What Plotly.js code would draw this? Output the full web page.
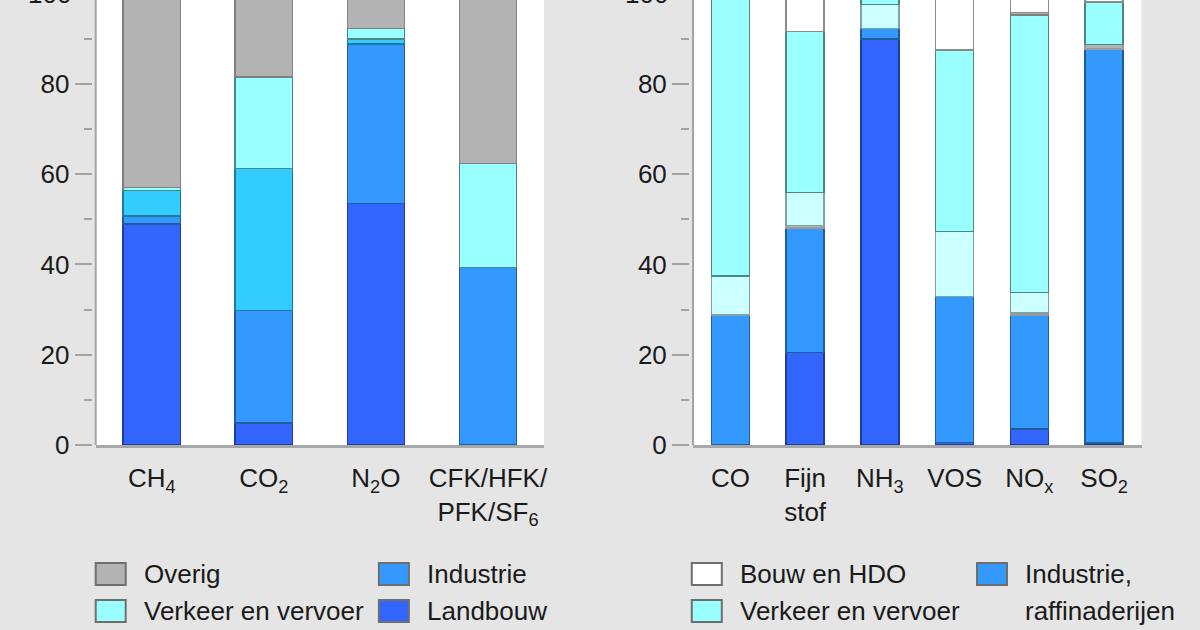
<!DOCTYPE html>
<html>
<head>
<meta charset="utf-8">
<script src="https://cdn.plot.ly/plotly-3.0.1.min.js"></script>
<style>
  html, body { margin: 0; padding: 0; background: #e5e5e5; }
  #chart { width: 1200px; height: 630px; }
</style>
</head>
<body>
<div id="chart"></div>
<script>
// ---------- DATA ----------
// Left panel: greenhouse gases (share per sector, %)
const leftCategories = ['CH4', 'CO2', 'N2O', 'CFK'];
const leftTickLabels = ['CH<sub>4</sub>', 'CO<sub>2</sub>', 'N<sub>2</sub>O', 'CFK/HFK/<br>PFK/SF<sub>6</sub>'];
const leftLandbouw  = [49.0, 4.9, 53.5, 0];
const leftIndustrie = [1.7, 24.9, 35.3, 39.3];
const leftEnergie   = [5.7, 31.5, 1.2, 0];
const leftVerkeer   = [0.7, 20.2, 2.3, 23.1];
const leftOverig    = [42.9, 18.5, 7.7, 37.6];

// Right panel: other pollutants (share per sector, %)
const rightCategories = ['CO', 'Fijn stof', 'NH3', 'VOS', 'NOx', 'SO2'];
const rightTickLabels = ['CO', 'Fijn<br>stof', 'NH<sub>3</sub>', 'VOS', 'NO<sub>x</sub>', 'SO<sub>2</sub>'];
const rightLandbouw    = [0, 20.5, 90.0, 0.6, 3.5, 0.4];
const rightIndustrie   = [28.8, 27.6, 2.3, 32.3, 25.3, 87.3];
const rightEnergie     = [0, 0.5, 0, 0, 0.5, 1.0];
const rightConsumenten = [8.6, 7.4, 5.3, 14.4, 4.5, 0];
const rightVerkeer     = [62.6, 35.6, 1.5, 40.2, 61.5, 9.5];
const rightOverig      = [0, 0, 0, 0, 0.5, 0];
const rightBouw        = [0, 8.4, 0.9, 12.5, 4.2, 1.8];

const yTickValues = [0, 20, 40, 60, 80, 100];

// Legend entries (visible part), column-major
const leftLegendCol1 = ['Overig', 'Verkeer en vervoer'];
const leftLegendCol2 = ['Industrie', 'Landbouw'];
const rightLegendCol1 = ['Bouw en HDO', 'Verkeer en vervoer'];
const rightLegendCol2 = ['Industrie,\nraffinaderijen'];

// ---------- STYLES ----------
const styles = {
  'Landbouw':               { fill: '#3366ff', line: '#1f3d99' },
  'Industrie':              { fill: '#3399ff', line: '#1f5c99' },
  'Industrie,\nraffinaderijen': { fill: '#3399ff', line: '#1f5c99' },
  'Energie':                { fill: '#33ccff', line: '#1f7a99' },
  'Energiesector':          { fill: '#b3b3b3', line: '#9a9a9a' },
  'Consumenten':            { fill: '#ccffff', line: '#7fa3a3' },
  'Verkeer en vervoer':     { fill: '#99ffff', line: '#4d8686' },
  'Overig':                 { fill: '#b3b3b3', line: '#808080' },
  'Bouw en HDO':            { fill: '#ffffff', line: '#8a8a8a' }
};

function bar(name, styleKey, x, y, xa, ya) {
  const s = styles[styleKey];
  return {
    type: 'bar', name: name, x: x, y: y.map(v => v === 0 ? null : v),
    xaxis: xa, yaxis: ya, showlegend: false, hoverinfo: 'skip',
    marker: { color: s.fill, line: { color: s.line, width: 1.5 } }
  };
}

const traces = [
  bar('Landbouw', 'Landbouw', leftCategories, leftLandbouw, 'x', 'y'),
  bar('Industrie', 'Industrie', leftCategories, leftIndustrie, 'x', 'y'),
  bar('Energie', 'Energie', leftCategories, leftEnergie, 'x', 'y'),
  bar('Verkeer en vervoer', 'Verkeer en vervoer', leftCategories, leftVerkeer, 'x', 'y'),
  bar('Overig', 'Overig', leftCategories, leftOverig, 'x', 'y'),

  bar('Landbouw', 'Landbouw', rightCategories, rightLandbouw, 'x2', 'y2'),
  bar('Industrie, raffinaderijen', 'Industrie', rightCategories, rightIndustrie, 'x2', 'y2'),
  bar('Energiesector', 'Energiesector', rightCategories, rightEnergie, 'x2', 'y2'),
  bar('Consumenten', 'Consumenten', rightCategories, rightConsumenten, 'x2', 'y2'),
  bar('Verkeer en vervoer', 'Verkeer en vervoer', rightCategories, rightVerkeer, 'x2', 'y2'),
  bar('Overig', 'Overig', rightCategories, rightOverig, 'x2', 'y2'),
  bar('Bouw en HDO', 'Bouw en HDO', rightCategories, rightBouw, 'x2', 'y2')
];

// ---------- LAYOUT ----------
const W = 1200, H = 630, plotBottom = 445;
const yMax = 98.6;
const leftDom = [95.7, 544];
const rightDom = [693, 1141.5];
const tickGap = 4;
const majorLen = 17;
const tickColor = '#a3a3a3';
const textColor = '#1a1a1a';
const fontFamily = '"Liberation Sans", Arial, sans-serif';

function xAxis(dom, cats, labels, anchor) {
  return {
    domain: [dom[0] / W, dom[1] / W], anchor: anchor, type: 'category',
    categoryorder: 'array', categoryarray: cats,
    tickvals: cats, ticktext: labels, tickangle: 0,
    showline: true, linecolor: '#a8a8a8', linewidth: 3,
    ticks: 'outside', ticklen: 8, tickcolor: 'rgba(0,0,0,0)',
    showgrid: false, zeroline: false, fixedrange: true
  };
}
function yAxis(dom) {
  return {
    anchor: 'free', position: (dom[0] - tickGap) / W,
    range: [0, yMax], tickvals: yTickValues,
    ticks: 'outside', ticklen: majorLen, tickwidth: 2, tickcolor: tickColor,
    minor: { dtick: 10, tick0: 0, ticks: 'outside', ticklen: 8, tickwidth: 2, tickcolor: tickColor },
    showline: false, showgrid: false, zeroline: false, fixedrange: true
  };
}

const px2x = p => p / W;
const px2y = p => (plotBottom - p) / plotBottom;

const shapes = [
  { type: 'line', xref: 'x domain', yref: 'y domain', x0: 0, x1: 0, y0: 0, y1: 1, line: { color: tickColor, width: 2 } },
  { type: 'line', xref: 'x2 domain', yref: 'y2 domain', x0: 0, x1: 0, y0: 0, y1: 1, line: { color: tickColor, width: 2 } }
];
const annotations = [];

// partially visible "100" tick labels at the top edge
[leftDom, rightDom].forEach(dom => {
  annotations.push({
    xref: 'paper', yref: 'paper', x: (dom[0] - tickGap - majorLen - 2) / W, y: 100 / yMax,
    xanchor: 'right', yanchor: 'middle', text: String(yTickValues[5]), showarrow: false,
    font: { size: 26, color: textColor, family: fontFamily }
  });
});

// manual legends
const rowsPx = [574, 611];
const swW = 30, swH = 22;
function legendColumn(names, swatchX, textX) {
  let row = 0;
  names.forEach(name => {
    const s = styles[name];
    const cy = rowsPx[row];
    shapes.push({
      type: 'rect', xref: 'paper', yref: 'paper',
      x0: px2x(swatchX), x1: px2x(swatchX + swW),
      y0: px2y(cy + swH / 2), y1: px2y(cy - swH / 2),
      fillcolor: s.fill, line: { color: '#6e6e6e', width: 2 }
    });
    name.split('\n').forEach(line => {
      annotations.push({
        xref: 'paper', yref: 'paper', x: px2x(textX), y: px2y(rowsPx[row]),
        xanchor: 'left', yanchor: 'middle', text: line, showarrow: false,
        font: { size: 26, color: textColor, family: fontFamily }
      });
      row++;
    });
  });
}
legendColumn(leftLegendCol1, 95.7, 141.6);
legendColumn(leftLegendCol2, 378.9, 424.8);
legendColumn(rightLegendCol1, 691.8, 737.8);
legendColumn(rightLegendCol2, 977, 1022.9);

const layout = {
  width: W, height: H,
  paper_bgcolor: '#e5e5e5', plot_bgcolor: '#ffffff',
  margin: { l: 0, r: 0, t: 0, b: H - plotBottom, autoexpand: false },
  barmode: 'stack', bargap: 0.49,
  font: { family: fontFamily, size: 26, color: textColor },
  showlegend: false,
  xaxis: xAxis(leftDom, leftCategories, leftTickLabels, 'y'),
  yaxis: yAxis(leftDom),
  xaxis2: xAxis(rightDom, rightCategories, rightTickLabels, 'y2'),
  yaxis2: yAxis(rightDom),
  shapes: shapes,
  annotations: annotations
};

Plotly.newPlot('chart', traces, layout, { staticPlot: true, displayModeBar: false });
</script>
</body>
</html>
